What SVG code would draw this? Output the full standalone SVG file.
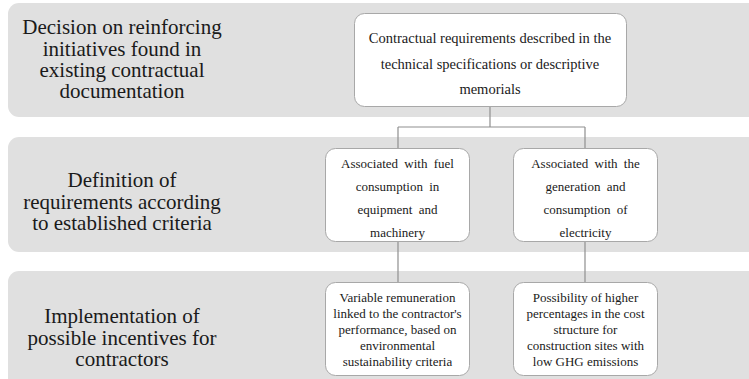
<svg xmlns="http://www.w3.org/2000/svg" width="749" height="379" viewBox="0 0 749 379">
  <style>
    .band { fill: #e0e0e0; }
    .box { fill: #ffffff; stroke: #a8a8a8; stroke-width: 1; }
    .conn { fill: none; stroke: #8f8f8f; stroke-width: 1.2; }
    text { font-family: 'Liberation Serif', 'Tinos', 'DejaVu Serif', serif; fill: #1a1a1a; text-anchor: middle; }
    .lbl { font-size: 21px; }
    .t1 { font-size: 14.5px; }
    .t2 { font-size: 13px; }
  </style>
  <rect width="749" height="379" fill="#ffffff"/>
  <g id="band1">
    <rect class="band" x="8" y="3" width="760" height="114" rx="11"/>
    <text class="lbl" x="122" y="34">Decision on reinforcing</text>
    <text class="lbl" x="122" y="56">initiatives found in</text>
    <text class="lbl" x="122" y="77">existing contractual</text>
    <text class="lbl" x="122" y="98">documentation</text>
  </g>
  <g id="band2">
    <rect class="band" x="8" y="137" width="760" height="115" rx="11"/>
    <text class="lbl" x="122" y="187">Definition of</text>
    <text class="lbl" x="122" y="209">requirements according</text>
    <text class="lbl" x="122" y="230">to established criteria</text>
  </g>
  <g id="band3">
    <rect class="band" x="8" y="271" width="760" height="130" rx="11"/>
    <text class="lbl" x="122" y="323">Implementation of</text>
    <text class="lbl" x="122" y="345">possible incentives for</text>
    <text class="lbl" x="122" y="366">contractors</text>
  </g>
  <g id="connectors">
    <path class="conn" d="M490 106 V127 M398 127 H585 M398 127 V148 M585 127 V148"/>
    <path class="conn" d="M398 242 V282 M585 242 V282"/>
  </g>
  <g id="node-top">
    <rect class="box" x="354.5" y="13.5" width="272" height="93" rx="10"/>
    <text class="t1" x="490" y="43">Contractual requirements described in the</text>
    <text class="t1" x="490" y="69">technical specifications or descriptive</text>
    <text class="t1" x="490" y="94">memorials</text>
  </g>
  <g id="node-fuel">
    <rect class="box" x="325.5" y="148.5" width="144" height="93" rx="10"/>
    <text class="t2" x="397.5" y="168" word-spacing="3">Associated with fuel</text>
    <text class="t2" x="397.5" y="191" word-spacing="3">consumption in</text>
    <text class="t2" x="397.5" y="214" word-spacing="3">equipment and</text>
    <text class="t2" x="397.5" y="237">machinery</text>
  </g>
  <g id="node-electricity">
    <rect class="box" x="513.5" y="148.5" width="144" height="93" rx="10"/>
    <text class="t2" x="585.5" y="168" word-spacing="3">Associated with the</text>
    <text class="t2" x="585.5" y="191" word-spacing="3">generation and</text>
    <text class="t2" x="585.5" y="214" word-spacing="3">consumption of</text>
    <text class="t2" x="585.5" y="237">electricity</text>
  </g>
  <g id="node-remuneration">
    <rect class="box" x="325.5" y="282.5" width="144" height="93" rx="10"/>
    <text class="t2" x="397.5" y="302">Variable remuneration</text>
    <text class="t2" x="397.5" y="318">linked to the contractor's</text>
    <text class="t2" x="397.5" y="334">performance, based on</text>
    <text class="t2" x="397.5" y="350">environmental</text>
    <text class="t2" x="397.5" y="366">sustainability criteria</text>
  </g>
  <g id="node-cost">
    <rect class="box" x="513.5" y="282.5" width="144" height="93" rx="10"/>
    <text class="t2" x="585.5" y="302">Possibility of higher</text>
    <text class="t2" x="585.5" y="318">percentages in the cost</text>
    <text class="t2" x="585.5" y="334">structure for</text>
    <text class="t2" x="585.5" y="350">construction sites with</text>
    <text class="t2" x="585.5" y="366">low GHG emissions</text>
  </g>
</svg>
